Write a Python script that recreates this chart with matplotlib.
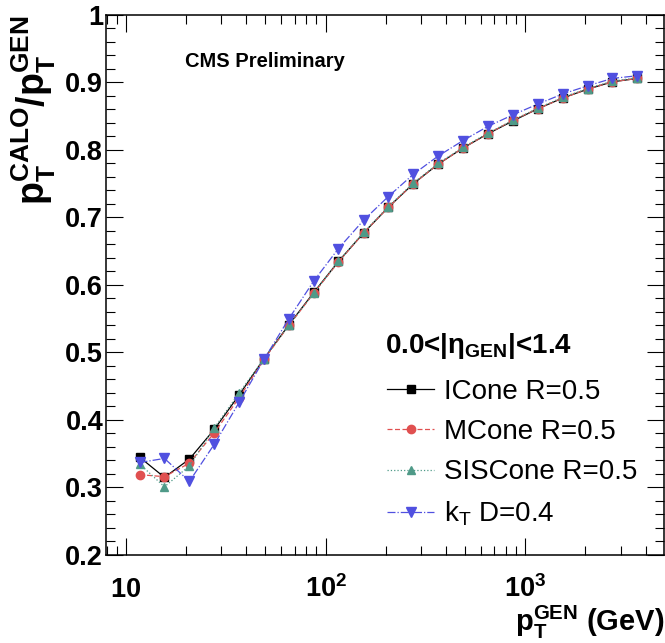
import matplotlib
matplotlib.use("Agg")
import matplotlib.pyplot as plt
from matplotlib.ticker import FixedLocator, LogLocator, NullFormatter, MultipleLocator, FuncFormatter

plt.rcParams['font.family'] = ['Liberation Sans', 'DejaVu Sans']
plt.rcParams['mathtext.fontset'] = 'custom'
plt.rcParams['mathtext.rm'] = 'Liberation Sans'
plt.rcParams['mathtext.bf'] = 'Liberation Sans:bold'
plt.rcParams['mathtext.it'] = 'Liberation Sans:italic'

# generated pT bin centres (GeV) and calorimeter response per algorithm
pt_gen = [11.7, 15.6, 20.8, 27.7, 36.9, 49.2, 65.5, 87.3, 116, 155, 206,
          275, 366, 488, 650, 866, 1155, 1540, 2050, 2730, 3640]
icone = [0.345, 0.315, 0.342, 0.386, 0.437, 0.491, 0.541, 0.589, 0.635, 0.677, 0.715,
         0.750, 0.779, 0.803, 0.824, 0.843, 0.861, 0.877, 0.890, 0.901, 0.906]
mcone = [0.319, 0.316, 0.336, 0.381, 0.433, 0.490, 0.540, 0.588, 0.634, 0.677, 0.715,
         0.750, 0.779, 0.803, 0.824, 0.844, 0.861, 0.877, 0.890, 0.901, 0.906]
siscone = [0.335, 0.301, 0.332, 0.388, 0.440, 0.491, 0.540, 0.588, 0.635, 0.678, 0.716,
           0.751, 0.780, 0.804, 0.825, 0.844, 0.862, 0.878, 0.891, 0.902, 0.907]
kt = [0.337, 0.343, 0.309, 0.364, 0.426, 0.490, 0.550, 0.606, 0.654, 0.696, 0.731,
      0.764, 0.791, 0.814, 0.835, 0.852, 0.868, 0.883, 0.895, 0.906, 0.910]

labels = ['ICone R=0.5', 'MCone R=0.5', 'SISCone R=0.5', r'k$_\mathrm{T}$ D=0.4']
x_ticks = [10, 100, 1000]
x_ticklabels = [r'$\mathbf{10}$', r'$\mathbf{10^{2}}$', r'$\mathbf{10^{3}}$']

fig = plt.figure(figsize=(6.65, 6.43), dpi=100)
ax = fig.add_axes([0.1594, 0.1369, 0.8391, 0.8398])

ax.plot(pt_gen, icone, '-', color='black', lw=0.9, marker='s', ms=6, label=labels[0])
ax.plot(pt_gen, mcone, '--', color='#e05050', lw=0.9, marker='o', ms=6,
        dashes=(4, 2), label=labels[1])
ax.plot(pt_gen, siscone, ':', color='#4f9a88', lw=0.9, marker='^', ms=6, label=labels[2])
ax.plot(pt_gen, kt, '-.', color='#5050e0', lw=0.9, marker='v', ms=7, label=labels[3])

ax.set_xscale('log')
ax.set_xlim(7.95, 4950)
ax.set_ylim(0.2, 1.0)

ax.xaxis.set_major_locator(FixedLocator(x_ticks))
ax.set_xticklabels(x_ticklabels)
ax.xaxis.set_minor_locator(LogLocator(base=10, subs=range(2, 10)))
ax.xaxis.set_minor_formatter(NullFormatter())
ax.yaxis.set_major_locator(MultipleLocator(0.1))
ax.yaxis.set_minor_locator(MultipleLocator(0.02))
ax.yaxis.set_major_formatter(FuncFormatter(lambda v, p: f"{v:g}"))

ax.tick_params(which='both', direction='in', top=True, right=True, width=0.8)
ax.tick_params(which='major', length=12.5)
ax.tick_params(which='minor', length=6.5)
ax.tick_params(axis='y', labelsize=19.5, pad=2)
ax.tick_params(axis='x', labelsize=19.5, pad=30)
for lab in ax.get_yticklabels():
    lab.set_fontweight('bold')
for lab in ax.get_xticklabels():
    lab.set_va('baseline')
for sp in ax.spines.values():
    sp.set_linewidth(1.1)

ax.set_ylabel(r'$\mathbf{p_{T}^{CALO}/p_{T}^{GEN}}$', fontsize=27, loc='top')
ax.yaxis.set_label_coords(-0.086, 1.0)
ax.yaxis.label.set_va('bottom')
ax.set_xlabel(r'$\mathbf{p_{T}^{GEN}}$ (GeV)', fontsize=21, fontweight='bold', loc='right')
ax.xaxis.set_label_coords(1.0, -0.09)

ax.text(0.1416, 0.903, 'CMS Preliminary', transform=ax.transAxes,
        fontsize=14.5, fontweight='bold', ha='left', va='baseline')

ax.text(0.5, 0.374, r'0.0<|η$_{\mathbf{GEN}}$|<1.4', transform=ax.transAxes,
        fontsize=20, fontweight='bold', ha='left', va='baseline')
ax.legend(loc='upper left', bbox_to_anchor=(0.5036, 0.326), frameon=False,
          fontsize=20, handlelength=1.7, handletextpad=0.36,
          labelspacing=0.51, borderpad=0, borderaxespad=0)

fig.savefig('out.png', dpi=100)
